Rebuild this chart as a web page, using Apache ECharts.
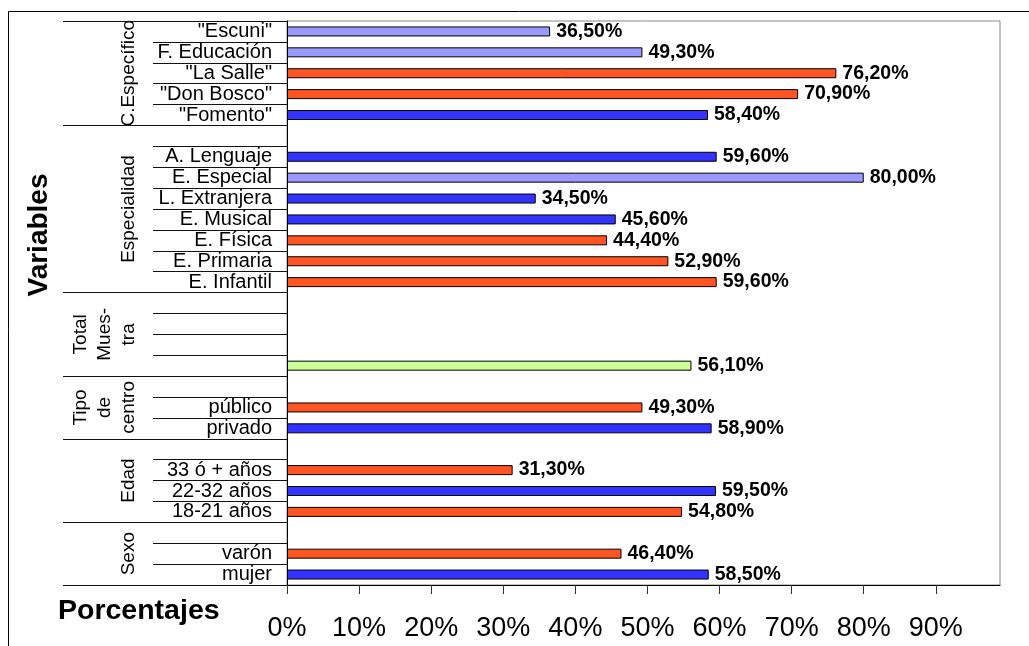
<!DOCTYPE html>
<html lang="es">
<head>
<meta charset="utf-8">
<title>Porcentajes por variables</title>
<style>
  html, body { margin: 0; padding: 0; background: #fff; }
  #main { width: 1029px; height: 646px; }
</style>
</head>
<body>
<div id="main"></div>
<script src="https://cdn.jsdelivr.net/npm/echarts@6/dist/echarts.min.js"></script>
<script>
// filas de arriba abajo
var categories = ['"Escuni"', 'F. Educación', '"La Salle"', '"Don Bosco"', '"Fomento"',
  '', 'A. Lenguaje', 'E. Especial', 'L. Extranjera', 'E. Musical', 'E. Física', 'E. Primaria', 'E. Infantil',
  '', '', '', '',
  '', 'público', 'privado',
  '', '33 ó + años', '22-32 años', '18-21 años',
  '', 'varón', 'mujer'];
var values = [36.5, 49.3, 76.2, 70.9, 58.4,
  null, 59.6, 80.0, 34.5, 45.6, 44.4, 52.9, 59.6,
  null, null, null, 56.1,
  null, 49.3, 58.9,
  null, 31.3, 59.5, 54.8,
  null, 46.4, 58.5];
var barColors = ['lila', 'lila', 'naranja', 'naranja', 'azul',
  null, 'azul', 'lila', 'azul', 'azul', 'naranja', 'naranja', 'naranja',
  null, null, null, 'verde',
  null, 'naranja', 'azul',
  null, 'naranja', 'azul', 'naranja',
  null, 'naranja', 'azul'];
var groupNames = ['C.Específico', 'Especialidad', 'Total\nMues-\ntra', 'Tipo\nde\ncentro', 'Edad', 'Sexo'];
var groupSizes = [5, 8, 4, 3, 4, 3];
var xTicks = [0, 10, 20, 30, 40, 50, 60, 70, 80, 90];

var palette = { lila: '#9999ff', naranja: '#ff5522', azul: '#3333ff', verde: '#ccff99' };
var FONT = 'Arial, "Liberation Sans", sans-serif';

var groupStarts = [];
var acc = 0;
groupSizes.forEach(function (n) { groupStarts.push(acc); acc += n; });

var chart = echarts.init(document.getElementById('main'));

chart.setOption({
  animation: false,
  backgroundColor: '#fff',
  grid: {
    left: 287, right: 29, top: 21, bottom: 61,
    show: true, borderColor: '#888', borderWidth: 1, backgroundColor: '#fff'
  },
  xAxis: {
    type: 'value',
    min: 0,
    max: 98.9,
    interval: 10,
    splitLine: { show: false },
    axisLine: { show: true, lineStyle: { color: '#000', width: 1 } },
    axisTick: { show: true, length: 9, lineStyle: { color: '#333' }, customValues: xTicks },
    axisLabel: {
      customValues: xTicks,
      formatter: function (v) { return v + '%'; },
      fontSize: 27, fontFamily: FONT, color: '#000', margin: 30
    }
  },
  yAxis: [{
    type: 'category',
    data: categories,
    inverse: true,
    axisLine: { show: true, lineStyle: { color: '#000' } },
    axisTick: { show: true, interval: 0, length: 134, lineStyle: { color: '#111' } },
    axisLabel: { interval: 0, margin: 15, fontSize: 20, fontFamily: FONT, color: '#000', padding: [3, 0, 0, 0] }
  }, {
    type: 'category',
    data: categories,
    inverse: true,
    position: 'left',
    axisLine: { show: false },
    axisLabel: { show: false },
    axisTick: {
      show: true, length: 224, lineStyle: { color: '#111' },
      interval: function (i) { return groupStarts.indexOf(i) >= 0; }
    }
  }],
  series: [{
    type: 'bar',
    yAxisIndex: 0,
    barWidth: 10,
    data: values.map(function (v, i) {
      if (v == null) return '-';
      return { value: v, itemStyle: { color: palette[barColors[i]] } };
    }),
    itemStyle: { borderColor: '#000', borderWidth: 1 },
    label: {
      show: true,
      position: 'right',
      distance: 6,
      formatter: function (p) { return p.value.toFixed(2).replace('.', ',') + '%'; },
      fontWeight: 'bold', fontSize: 19.5, fontFamily: FONT, color: '#000'
    }
  }]
});

// etiquetas de grupo, colocadas con la escala del eje
var graphics = [{
  type: 'rect', silent: true,
  shape: { x: 8.5, y: 11.5, width: 1100, height: 700 },
  style: { fill: 'none', stroke: '#000', lineWidth: 1 }
}, {
  type: 'text', x: 39, y: 235, rotation: Math.PI / 2,
  style: { text: 'Variables', font: 'bold 28px ' + FONT, fill: '#000', align: 'center', verticalAlign: 'middle' }
}, {
  type: 'text', x: 58, y: 611,
  style: { text: 'Porcentajes', font: 'bold 28.5px ' + FONT, fill: '#000', align: 'left', verticalAlign: 'middle' }
}];

groupNames.forEach(function (name, g) {
  var s = groupStarts[g];
  var y0 = chart.convertToPixel({ yAxisIndex: 0 }, s);
  var y1 = chart.convertToPixel({ yAxisIndex: 0 }, s + groupSizes[g] - 1);
  graphics.push({
    type: 'text', x: 141, y: (y0 + y1) / 2, rotation: Math.PI / 2,
    style: {
      text: name, font: '19px ' + FONT, lineHeight: 24, fill: '#000',
      align: 'center', verticalAlign: 'bottom'
    }
  });
});

chart.setOption({ graphic: graphics });
</script>
</body>
</html>
